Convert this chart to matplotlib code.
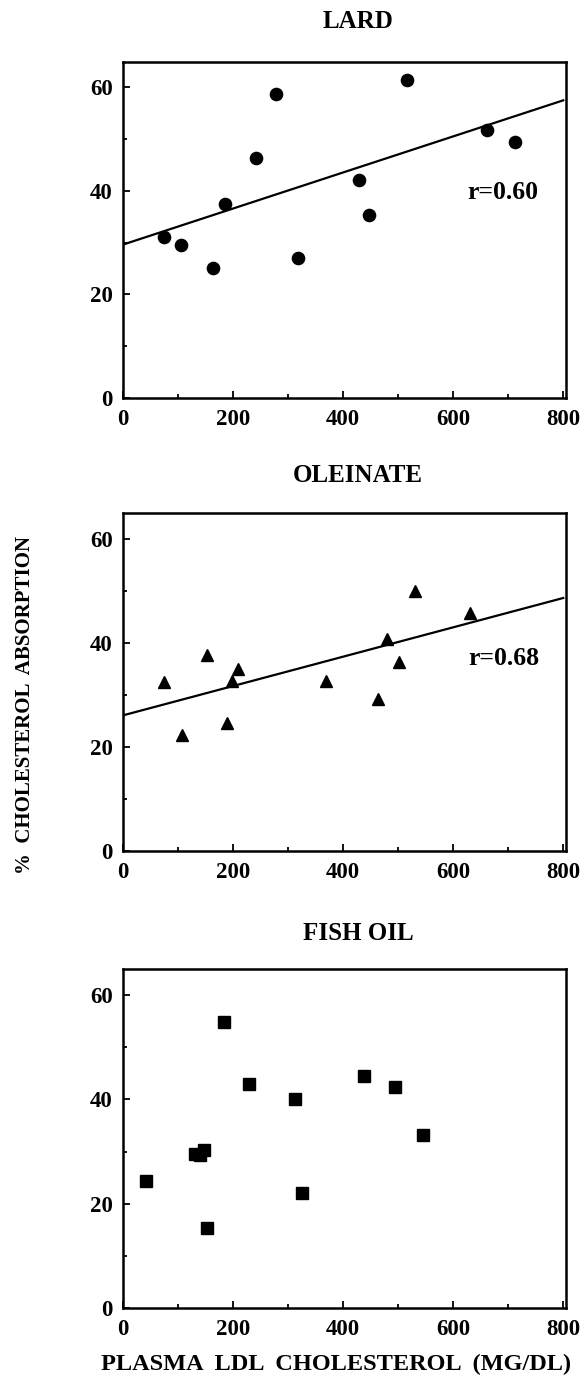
import matplotlib
matplotlib.use("Agg")
import matplotlib.pyplot as plt
from matplotlib.ticker import MultipleLocator

plt.rcParams['font.family'] = ['Liberation Serif', 'DejaVu Serif']
plt.rcParams['font.weight'] = 'bold'

# ---- data ----
lard_x = [76, 106, 165, 186, 242, 279, 319, 430, 447, 517, 661, 712]
lard_y = [31.1, 29.6, 25.2, 37.4, 46.3, 58.7, 27.0, 42.2, 35.4, 61.4, 51.7, 49.5]
lard_fit = (29.6, 57.5)  # fitted y at x=0 and x=800
lard_r = "r=0.60"

olein_x = [76, 108, 154, 189, 198, 210, 370, 463, 481, 502, 531, 631]
olein_y = [32.4, 22.2, 37.7, 24.6, 32.6, 34.9, 32.7, 29.2, 40.7, 36.3, 50.0, 45.8]
olein_fit = (26.0, 48.6)
olein_r = "r=0.68"

fish_x = [43, 132, 141, 148, 153, 185, 230, 313, 326, 438, 495, 545]
fish_y = [24.3, 29.6, 29.3, 30.3, 15.4, 54.9, 42.9, 40.1, 22.1, 44.4, 42.4, 33.1]

titles = ["LARD", "OLEINATE", "FISH OIL"]
xticks = [0, 200, 400, 600, 800]
yticks = [0, 20, 40, 60]
fit_x = (0, 800)

W, H = 586, 1386
fig = plt.figure(figsize=(W / 100, H / 100), dpi=100)

panels = [
    (lard_x, lard_y, 'o', 8.8, lard_fit, lard_r, (625, 39.6), 61.5, 398, 22),
    (olein_x, olein_y, '^', 9.2, olein_fit, olein_r, (627, 37.0), 512.7, 850.7, 475),
    (fish_x, fish_y, 's', 8.4, None, None, None, 969, 1308, 933),
]

left_px, right_px = 122.5, 566
for (xs, ys, mk, ms, fit, rtxt, rpos, top_px, bot_px, title_px), title in zip(panels, titles):
    ax = fig.add_axes([left_px / W, 1 - bot_px / H, (right_px - left_px) / W, (bot_px - top_px) / H])
    ax.plot(xs, ys, linestyle='none', marker=mk, markersize=ms, color='black')
    if fit is not None:
        ax.plot(fit_x, fit, color='black', linewidth=1.6)
    if rtxt is not None:
        ax.text(rpos[0], rpos[1], rtxt, fontsize=18.5, fontweight='bold', va='center', ha='left')
    ax.set_xlim(0, 805)
    ax.set_ylim(0, 65)
    ax.set_xticks(xticks)
    ax.set_yticks(yticks)
    ax.xaxis.set_minor_locator(MultipleLocator(100))
    ax.yaxis.set_minor_locator(MultipleLocator(10))
    ax.tick_params(which='both', direction='in', width=1.3, labelsize=16.5)
    ax.tick_params(which='major', length=5)
    ax.tick_params(which='minor', length=3)
    ax.tick_params(axis='x', pad=8)
    ax.tick_params(axis='y', pad=7)
    for lab in ax.get_xticklabels() + ax.get_yticklabels():
        lab.set_fontweight('bold')
    for sp in ax.spines.values():
        sp.set_linewidth(1.8)
    fig.text(358 / W, 1 - title_px / H, title, fontsize=18, fontweight='bold',
             ha='center', va='center')

fig.text(25 / W, 1 - 705 / H, "%  CHOLESTEROL  ABSORPTION", rotation=90, fontsize=15,
         fontweight='bold', ha='center', va='center')
fig.text(336 / W, 1 - 1364 / H, "PLASMA  LDL  CHOLESTEROL  (MG/DL)", fontsize=17.5,
         fontweight='bold', ha='center', va='center')

fig.savefig("out.png", dpi=100)
